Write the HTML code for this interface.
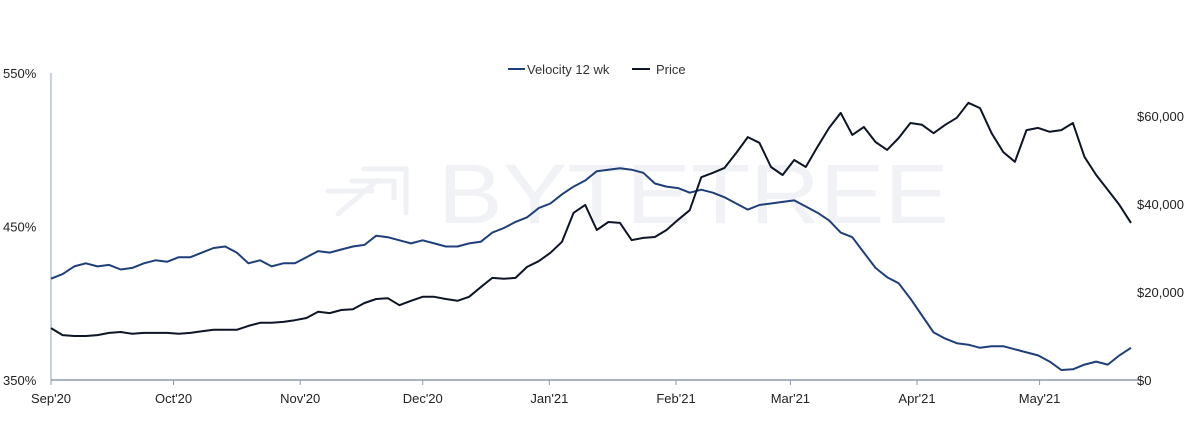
<!DOCTYPE html>
<html><head><meta charset="utf-8"><style>
html,body{margin:0;padding:0;background:#fff;}
svg{display:block;font-family:"Liberation Sans",sans-serif;}
</style></head><body>
<svg id="chart" width="1200" height="426" viewBox="0 0 1200 426" xmlns="http://www.w3.org/2000/svg">
  <g fill="none" stroke="#eff1f4" stroke-width="5" stroke-linecap="round">
    <path d="M364 169 H406 V213"/>
    <path d="M352 181 H394 V198"/>
    <path d="M328 191 H372"/>
    <path d="M338 214 L378 180"/>
    <text x="438" y="223" textLength="511" lengthAdjust="spacingAndGlyphs" font-size="84" fill="#f1f2f5" stroke="none">BYTETREE</text>
  </g>
  <g font-size="13" fill="#333">
    <g>
      <line x1="508" y1="69" x2="525" y2="69" stroke="#1f3f7a" stroke-width="2"/>
      <text x="527" y="74">Velocity 12 wk</text>
    </g>
    <g>
      <line x1="632" y1="69" x2="650" y2="69" stroke="#0d1526" stroke-width="2"/>
      <text x="656" y="74">Price</text>
    </g>
  </g>
  <g id="axes"></g>
  <g id="series"></g>
</svg>
<script>
const tickLabels = ["Sep'20","Oct'20","Nov'20","Dec'20","Jan'21","Feb'21","Mar'21","Apr'21","May'21"];
const tickDays = [0,30,61,91,122,153,181,212,242];
const leftTicks = [350,450,550];
const rightTicks = [0,20000,40000,60000];
const rightTickLabels = ["$0","$20,000","$40,000","$60,000"];
const totalDays = 264;
const velocity = [416,419,424,426,424,425,422,423,426,428,427,430,430,433,436,437,433,426,428,424,426,426,430,434,433,435,437,438,444,443,441,439,441,439,437,437,439,440,446,449,453,456,462,465,471,476,480,486,
487,488,487,485,478,476,475,472,474,472,469,465,461,464,465,466,467,463,459,454,446,443,433,423,417,413,403,392,381,377,374,373,371,372,372,370,368,366,362,356.5,357,360,362,360,366,371];
const price = [11800,10200,10000,10000,10200,10700,10900,10500,10700,10700,10700,10500,10700,11100,11400,11400,11400,12300,13000,13000,13200,13600,14100,15500,15200,15900,16100,17500,18400,18600,17000,18000,18900,18900,18400,18000,18900,21100,23200,23000,23200,25700,27000,28900,31400,38000,39800,34100,
35900,35700,31800,32300,32500,34100,36400,38600,46100,47100,48200,51600,55200,53900,48400,46600,50000,48400,53000,57300,60700,55700,57500,54100,52300,55000,58400,58000,56100,58000,59600,63000,61800,56100,51800,49600,56800,57300,56400,56800,58400,50700,46600,43200,39800,35700];

const X0=51, X1=1131, PXDAY=4.085;
const xDay = d => X0 + d*PXDAY;
const xIdx = i => X0 + i*(X1-X0)/(velocity.length-1);
const yL = v => 380 - (v-350)*1.535;
const yR = v => 380 - v*0.0044;
const NS="http://www.w3.org/2000/svg";
const axes=document.getElementById('axes'), series=document.getElementById('series');
function mk(tag, attrs, parent){const e=document.createElementNS(NS,tag);for(const k in attrs)e.setAttribute(k,attrs[k]);parent.appendChild(e);return e;}

let a=mk('line',{x1:X0,y1:73,x2:X0,y2:380,stroke:'#b8c2cf','stroke-width':1.5},axes);


a=mk('line',{x1:X0,y1:380,x2:X1+9,y2:380,stroke:'#8a9bb0','stroke-width':1.5},axes);


tickDays.forEach((d,i)=>{
  const x=xDay(d);
  const t=mk('line',{x1:x,y1:380,x2:x,y2:385,stroke:'#8a9bb0','stroke-width':1},axes);
  
  
  const l=mk('text',{x:x,y:403,'text-anchor':'middle','font-size':13,fill:'#222'},axes);
  l.textContent=tickLabels[i];
  
  
});
leftTicks.forEach(v=>{
  const l=mk('text',{x:3,y:yL(v)+5,'font-size':13,fill:'#222'},axes);
  l.textContent=v+'%';
  
  
});
rightTicks.forEach((v,i)=>{
  const l=mk('text',{x:1137,y:yR(v)+5,'font-size':13,fill:'#222'},axes);
  l.textContent=rightTickLabels[i];
  
  
});
let p=mk('polyline',{points:velocity.map((v,i)=>xIdx(i).toFixed(1)+','+yL(v).toFixed(1)).join(' '),fill:'none',stroke:'#1f3f7a','stroke-width':2,'stroke-linejoin':'round'},series);


p=mk('polyline',{points:price.map((v,i)=>xIdx(i).toFixed(1)+','+yR(v).toFixed(1)).join(' '),fill:'none',stroke:'#0d1526','stroke-width':2,'stroke-linejoin':'round'},series);


</script>
</body></html>
